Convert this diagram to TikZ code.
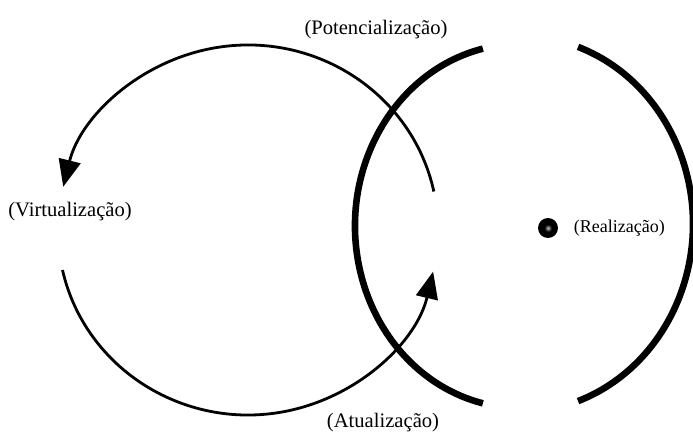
\documentclass[tikz,border=0pt]{standalone}
\usepackage{fontspec}
\setmainfont{Liberation Serif}
\usetikzlibrary{arrows.meta,positioning}
\pgfdeclareradialshading{pontoluz}{\pgfpoint{0bp}{0bp}}{color(0bp)=(white!75!black); color(9bp)=(black); color(50bp)=(black)}

\begin{document}
\begin{tikzpicture}[
x=0.5pt, y=0.5pt,
node distance=6.5pt,
lbl/.style={font=\fontsize{10.3}{12}\selectfont, inner sep=1pt},
fino/.style={line width=1.4pt},
grosso/.style={line width=3.3pt},
arr/.style={fino, -{Triangle[length=13.5pt, width=11pt]}}
]
\useasboundingbox (0,0) rectangle (693,434);
\coordinate (cv) at (248,204);
\coordinate (cr1) at (520,208);
\coordinate (cr2) at (520,210);
\draw[arr] (cv) ++(12:190 and 185) coordinate (potIni)
  arc[start angle=12, end angle=166.5, x radius=190, y radius=185] coordinate (virFim);
\draw[arr] (cv) ++(192.5:190 and 185) coordinate (atuIni)
  arc[start angle=192.5, end angle=347, x radius=190, y radius=185] coordinate (atuFim);
\draw[grosso] (cr1) ++(103:165 and 182)
  arc[start angle=103, end angle=257, x radius=165, y radius=182];
\draw[grosso] (cr2) ++(70.4:173 and 188)
  arc[start angle=70.4, end angle=-70.4, x radius=173, y radius=188];
\node[lbl] (pot) at (376,404) {(Potencialização)};
\node[lbl] (vir) at (70,222) {(Virtualização)};
\node[lbl] (atu) at (383,11) {(Atualização)};
\node[circle, inner sep=0pt, minimum size=10pt, shading=pontoluz] (ponto) at (548,206) {};
\node[lbl, font=\fontsize{9}{11}\selectfont, right=of ponto] (rea) {(Realização)};
\end{tikzpicture}
\end{document}
